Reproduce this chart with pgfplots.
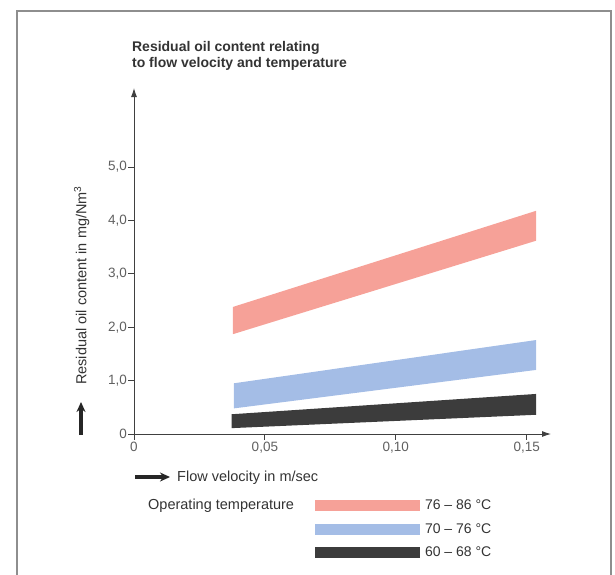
\documentclass[border=0pt]{standalone}
\usepackage{fontspec}
\setmainfont{Liberation Sans}
\usepackage{pgfplots}
\pgfplotsset{compat=1.18}
\usetikzlibrary{arrows.meta}
\definecolor{bandred}{HTML}{F6A198}
\definecolor{bandblue}{HTML}{A4BDE6}
\definecolor{bandblack}{HTML}{3C3C3C}
\definecolor{framegray}{HTML}{8E8E8E}
\definecolor{txt}{HTML}{333333}
\definecolor{ticktxt}{HTML}{606060}
\begin{document}
\begin{tikzpicture}
\useasboundingbox (-134pt,-140pt) rectangle (481pt,434pt);
\draw[framegray, line width=2pt] (-117pt,-150pt) -- (-117pt,423pt) -- (477pt,423pt) -- (477pt,-150pt);
\begin{axis}[
  at={(0pt,0pt)}, anchor=south west,
  scale only axis, width=417pt, height=346pt,
  xmin=0, xmax=0.1593, ymin=0, ymax=6.48,
  axis lines=left,
  axis line style={draw=black!75, line width=0.9pt, -{Latex[length=9pt,width=6pt]}},
  tick align=outside, major tick length=5.5pt,
  tick style={black!75, line width=0.8pt},
  xtick={0,0.05,0.1,0.15},
  xticklabels={0,{0,05},{0,10},{0,15}},
  ytick={0,1,2,3,4,5},
  yticklabels={0,{1,0},{2,0},{3,0},{4,0},{5,0}},
  /pgf/number format/assume math mode=true,
  tick label style={font=\fontsize{13.5}{16}\selectfont, text=ticktxt},
  yticklabel style={inner sep=1.5pt},
  xticklabel style={inner sep=2pt},
  title={Residual oil content relating\\to flow velocity and temperature},
  title style={at={(axis description cs:-0.005,1.119)}, anchor=north west, align=left,
    font=\bfseries\fontsize{14}{16.5}\selectfont, text=txt, inner sep=0pt},
  xlabel={Flow velocity in m/sec},
  xlabel style={at={(axis description cs:0.1031,-0.1387)}, anchor=base west,
    font=\fontsize{14.5}{17}\selectfont, text=txt, inner sep=0pt},
  ylabel={Residual oil content in mg/Nm\textsuperscript{3}},
  ylabel style={at={(axis description cs:-0.114,0.1416)}, anchor=base west, rotate=0,
    font=\fontsize{14.5}{17}\selectfont, text=txt, inner sep=0pt},
  legend style={at={(axis description cs:0.4341,-0.1855)}, anchor=north west,
    draw=none, fill=none, inner sep=0pt, outer sep=0pt, row sep=8pt, column sep=3pt,
    font=\fontsize{14}{16}\selectfont, text=txt},
  legend cell align=left,
  legend image code/.code={\fill[#1] (0pt,-5.5pt) rectangle (105pt,5.5pt);},
]
\addplot[fill=bandred, draw=none] coordinates {(0.0378,1.87) (0.1536,3.62) (0.1536,4.18) (0.0378,2.38)} -- cycle;
\addlegendentry{76 – 86 °C}
\addplot[fill=bandblue, draw=none] coordinates {(0.0382,0.48) (0.1536,1.20) (0.1536,1.76) (0.0382,0.95)} -- cycle;
\addlegendentry{70 – 76 °C}
\addplot[fill=bandblack, draw=none] coordinates {(0.0373,0.11) (0.1536,0.36) (0.1536,0.75) (0.0373,0.37)} -- cycle;
\addlegendentry{60 – 68 °C}
\end{axis}
\draw[black!85, line width=3.2pt, -{Stealth[length=10pt,width=9pt]}] (-53pt,-1pt) -- (-53pt,32pt);
\draw[black!85, line width=3.2pt, -{Stealth[length=10pt,width=9pt]}] (1pt,-43pt) -- (36pt,-43pt);
\node[anchor=base west, inner sep=0pt, text=txt, font=\fontsize{14.5}{17}\selectfont] at (14pt,-75pt) {Operating temperature};
\end{tikzpicture}
\end{document}
